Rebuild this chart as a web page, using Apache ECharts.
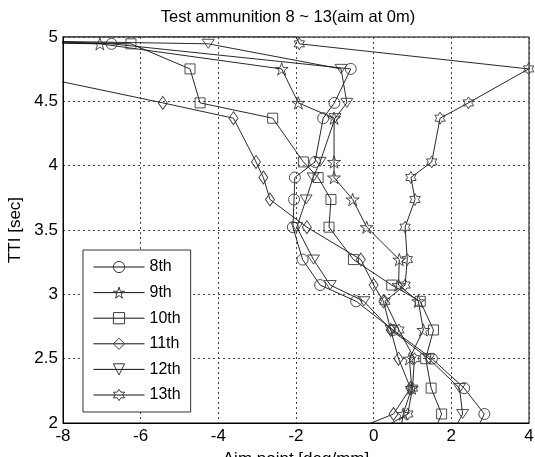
<!DOCTYPE html>
<html><head><meta charset="utf-8">
<script src="https://cdn.jsdelivr.net/npm/echarts@6/dist/echarts.min.js"></script>
<style>html,body{margin:0;padding:0;background:#fff}#c{width:535px;height:457px}</style>
</head><body><div id="c"></div>
<script>
const seriesNames = ['8th', '9th', '10th', '11th', '12th', '13th'];
const xTicks = [-8, -6, -4, -2, 0, 2, 4];
const yTicks = [2, 2.5, 3, 3.5, 4, 4.5, 5];

const x8  = [-12, -6.75, -0.59, -1.01, -1.30, -1.51, -2.03, -2.05, -2.08, -1.83, -1.38, -0.45, 0.50, 1.50, 2.33, 2.85, 2.5];
const y8  = [4.98, 4.947, 4.752, 4.488, 4.369, 4.029, 3.908, 3.737, 3.522, 3.27, 3.072, 2.946, 2.723, 2.5, 2.271, 2.07, 1.85];
const x9  = [-12, -7.05, -2.37, -1.94, -1.02, -1.02, -1.02, -0.54, -0.18, 0.66, 0.64, 1.15, 1.28, 0.92, 0.98, 0.76, 0.65];
const y9  = [4.97, 4.947, 4.752, 4.488, 4.369, 4.029, 3.908, 3.737, 3.522, 3.27, 3.072, 2.946, 2.723, 2.5, 2.271, 2.07, 1.85];
const x10 = [-12, -6.25, -4.73, -4.47, -2.6, -1.81, -1.43, -1.10, -1.15, -0.52, 0.465, 1.2, 1.54, 1.34, 1.48, 1.75, 1.45];
const y10 = [4.99, 4.947, 4.752, 4.488, 4.369, 4.029, 3.908, 3.737, 3.522, 3.27, 3.072, 2.946, 2.723, 2.5, 2.271, 2.07, 1.85];
const x11 = [-9.6, -5.43, -3.61, -3.03, -2.84, -2.67, -1.72, -0.33, 0.0, 0.25, 0.44, 0.64, 0.95, 0.51, -1.3];
const y11 = [4.752, 4.488, 4.369, 4.029, 3.908, 3.737, 3.522, 3.27, 3.072, 2.946, 2.723, 2.5, 2.271, 2.07, 1.85];
const x12 = [-12, -4.26, -0.84, -0.69, -0.995, -1.38, -1.56, -1.74, -1.98, -1.55, -1.12, -0.25, 0.45, 1.42, 2.21, 2.29, 1.9];
const y12 = [4.985, 4.947, 4.752, 4.488, 4.369, 4.029, 3.908, 3.737, 3.522, 3.27, 3.072, 2.946, 2.723, 2.5, 2.271, 2.07, 1.85];
const x13 = [-20, -2.0, -1.915, 3.99, 2.44, 1.71, 1.495, 0.96, 1.065, 0.81, 0.865, 0.81, 0.29, 0.65, 1.05, 1.0, 0.88, -0.43];
const y13 = [5.0, 5.005, 4.947, 4.752, 4.488, 4.369, 4.029, 3.908, 3.737, 3.522, 3.27, 3.072, 2.946, 2.723, 2.5, 2.271, 2.07, 1.85];

const xs = [x8, x9, x10, x11, x12, x13];
const ys = [y8, y9, y10, y11, y12, y13];

const PENTA = 'path://M0,-100 L22.45,-30.9 L95.1,-30.9 L36.3,11.8 L58.8,80.9 L0,38.2 L-58.8,80.9 L-36.3,11.8 L-95.1,-30.9 L-22.45,-30.9 Z';
const HEXA = 'path://M0,-100 L28.9,-50 L86.6,-50 L57.7,0 L86.6,50 L28.9,50 L0,100 L-28.9,50 L-86.6,50 L-57.7,0 L-86.6,-50 L-28.9,-50 Z';
const TRIDOWN = 'path://M0,0 L120,0 L60,104 Z';
const symbols = ['circle', PENTA, 'rect', 'diamond', TRIDOWN, HEXA];
const sizes = [11, 13, 10, [9, 13], [12, 10.5], 12];

const FONT = 'Liberation Sans';
const chart = echarts.init(document.getElementById('c'), null, {renderer: 'canvas'});

const series = seriesNames.map((name, i) => ({
  name: name,
  type: 'line',
  data: xs[i].map((x, k) => [x, ys[i][k]]),
  symbol: symbols[i],
  symbolSize: sizes[i],
  symbolKeepAspect: true,
  showAllSymbol: true,
  clip: true,
  lineStyle: {color: '#111', width: 0.9},
  itemStyle: {color: 'rgba(255,255,255,0)', borderColor: '#3a3a3a', borderWidth: 0.9},
  emphasis: {disabled: true},
  z: 3
}));

chart.setOption({
  animation: false,
  backgroundColor: '#fff',
  title: {
    text: 'Test ammunition 8 ~ 13(aim at 0m)',
    left: 283, top: 4, textAlign: 'center',
    textStyle: {fontFamily: FONT, fontSize: 16.5, fontWeight: 'normal', color: '#000'}
  },
  grid: {left: 63, right: 6, top: 37, bottom: 34, outerBoundsMode: 'none', containLabel: false,
    show: true, borderColor: '#000', borderWidth: 1, backgroundColor: 'transparent'},
  legend: {
    data: seriesNames,
    orient: 'vertical',
    left: 83, top: 250,
    padding: [9, 10, 9, 10],
    itemWidth: 51, itemHeight: 14, itemGap: 9.6,
    backgroundColor: '#fff',
    borderColor: '#333', borderWidth: 1,
    itemStyle: {color: 'rgba(255,255,255,0)', borderColor: '#3a3a3a', borderWidth: 1},
    lineStyle: {color: '#111', width: 1},
    textStyle: {fontFamily: FONT, fontSize: 16, color: '#000'}
  },
  xAxis: {
    type: 'value', min: -8, max: 4, interval: 2,
    name: 'Aim point [deg/mm]', nameLocation: 'middle', nameGap: 28,
    nameTextStyle: {fontFamily: FONT, fontSize: 17, color: '#000'},
    axisLine: {show: true, onZero: false, lineStyle: {color: '#000'}},
    axisTick: {show: false},
    axisLabel: {fontFamily: FONT, fontSize: 17, color: '#000', margin: 5,
      formatter: v => xTicks.includes(v) ? String(v) : ''},
    splitLine: {show: true, lineStyle: {color: '#444', type: [2, 3], width: 1}}
  },
  yAxis: {
    type: 'value', min: 2, max: 5, interval: 0.5,
    name: 'TTI [sec]', nameLocation: 'middle', nameGap: 39,
    nameTextStyle: {fontFamily: FONT, fontSize: 17, color: '#000'},
    axisLine: {show: true, onZero: false, lineStyle: {color: '#000'}},
    axisTick: {show: false},
    axisLabel: {fontFamily: FONT, fontSize: 17, color: '#000', margin: 5,
      formatter: v => yTicks.includes(v) ? String(v) : ''},
    splitLine: {show: true, lineStyle: {color: '#444', type: [2, 3], width: 1}}
  },
  series: series
});
</script>
</body></html>
